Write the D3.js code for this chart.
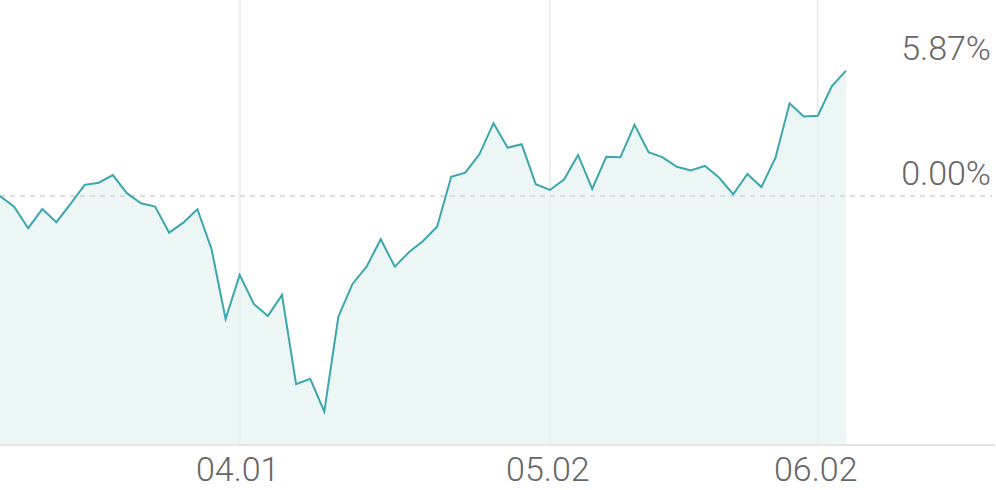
<!DOCTYPE html>
<html>
<head>
<meta charset="utf-8">
<script src="https://cdn.jsdelivr.net/npm/d3@7/dist/d3.min.js"></script>
<style>
  html, body { margin: 0; padding: 0; background: #fff; }
  svg { display: block; }
  text { font-family: Roboto, "Noto Sans", sans-serif; font-weight: 300; fill: #666; }
</style>
</head>
<body>
<svg id="chart" width="996" height="490"></svg>
<script>
// Cumulative return (%) per trading day
const values = [
  0.00, -0.50, -1.51, -0.61, -1.23, -0.37, 0.52, 0.62, 0.98, 0.13,
  -0.34, -0.50, -1.72, -1.25, -0.62, -2.48, -5.76, -3.70, -5.06, -5.62,
  -4.64, -8.82, -8.57, -10.10, -5.65, -4.12, -3.31, -2.03, -3.31, -2.64,
  -2.11, -1.44, 0.90, 1.09, 1.95, 3.41, 2.26, 2.42, 0.55, 0.28,
  0.77, 1.92, 0.33, 1.84, 1.81, 3.33, 2.05, 1.81, 1.37, 1.19,
  1.41, 0.86, 0.08, 1.03, 0.42, 1.79, 4.34, 3.72, 3.76, 5.15,
  5.87
];
const tickIndex = [17, 39, 58];
const tickLabels = ["04.01", "05.02", "06.02"];
const refValues = [0, 5.87];
const refLabels = ["0.00%", "5.87%"];

const W = 996, H = 490;
const plotBottom = 444;
const svg = d3.select("#chart");

const x = d3.scaleLinear().domain([0, values.length - 1]).range([0, 846]);
const y = d3.scaleLinear().domain([-11.62, 9.18]).range([plotBottom, 0]);

// vertical gridlines
svg.append("g").selectAll("line").data(tickIndex).join("line")
  .attr("x1", d => x(d)).attr("x2", d => x(d))
  .attr("y1", 0).attr("y2", plotBottom)
  .attr("stroke", "#f0f0f0").attr("stroke-width", 2);

// area
const area = d3.area().x((d, i) => x(i)).y0(plotBottom).y1(d => y(d));
svg.append("path").datum(values).attr("d", area).attr("fill", "#ecf6f5");

// gridlines faintly over area
svg.append("g").selectAll("line").data(tickIndex).join("line")
  .attr("x1", d => x(d)).attr("x2", d => x(d))
  .attr("y1", 0).attr("y2", plotBottom)
  .attr("stroke", "#e4eeed").attr("stroke-width", 2)
  .attr("opacity", 0.5);

// zero dashed line
svg.append("line")
  .attr("x1", 0).attr("x2", 992)
  .attr("y1", y(0)).attr("y2", y(0))
  .attr("stroke", "#dcdcdc").attr("stroke-width", 2)
  .attr("stroke-dasharray", "5,5");

// line
const line = d3.line().x((d, i) => x(i)).y(d => y(d));
svg.append("path").datum(values).attr("d", line)
  .attr("fill", "none").attr("stroke", "#3aa6b0").attr("stroke-width", 2)
  .attr("stroke-linejoin", "miter");

// bottom axis line
svg.append("line")
  .attr("x1", 0).attr("x2", 995)
  .attr("y1", plotBottom + 1).attr("y2", plotBottom + 1)
  .attr("stroke", "#e4e4e4").attr("stroke-width", 2);

// x labels
svg.append("g").selectAll("text").data(tickIndex).join("text")
  .attr("x", d => x(d) - 2).attr("y", 481)
  .attr("text-anchor", "middle")
  .attr("font-size", 34)
  .text((d, i) => tickLabels[i]);

// right labels
svg.append("g").selectAll("text").data(refValues).join("text")
  .attr("x", 991).attr("y", d => y(d) - 11)
  .attr("text-anchor", "end")
  .attr("font-size", 34)
  .text((d, i) => refLabels[i]);
</script>
</body>
</html>
